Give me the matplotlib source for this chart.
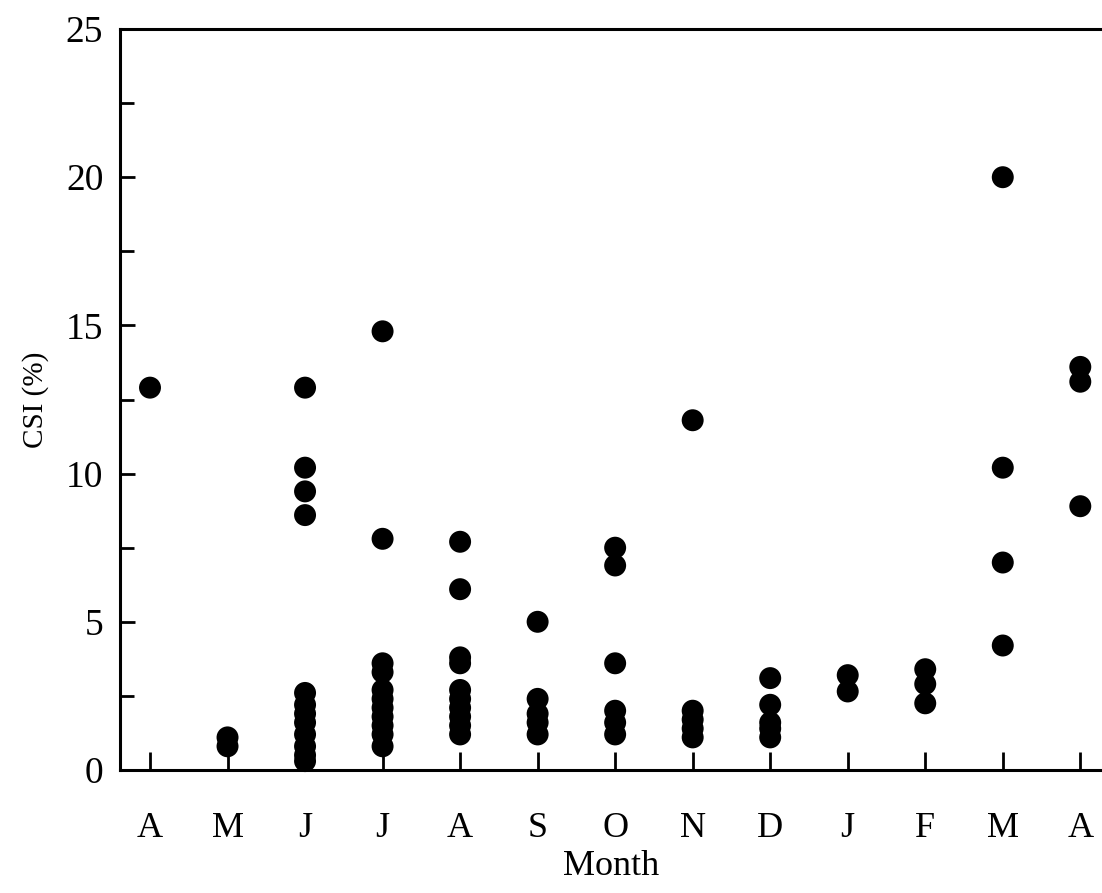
import numpy as np
import matplotlib
matplotlib.use("Agg")
import matplotlib.pyplot as plt

# month labels, April to April
months = ["A", "M", "J", "J", "A", "S", "O", "N", "D", "J", "F", "M", "A"]

# CSI (%) values per month
csi_apr1 = [12.9]
csi_may = [0.8, 1.1]
csi_jun = [12.9, 10.2, 9.4, 8.6, 2.6, 2.2, 1.9, 1.6, 1.2, 0.8, 0.5, 0.3]
csi_jul = [14.8, 7.8, 3.6, 3.3, 2.7, 2.4, 2.1, 1.8, 1.5, 1.2, 0.8]
csi_aug = [7.7, 6.1, 3.8, 3.6, 2.7, 2.4, 2.1, 1.8, 1.5, 1.2]
csi_sep = [5.0, 2.4, 1.9, 1.6, 1.2]
csi_oct = [7.5, 6.9, 3.6, 2.0, 1.6, 1.2]
csi_nov = [11.8, 2.0, 1.7, 1.4, 1.1]
csi_dec = [3.1, 2.2, 1.6, 1.4, 1.1]
csi_jan = [3.2, 2.65]
csi_feb = [3.4, 2.9, 2.25]
csi_mar = [20.0, 10.2, 7.0, 4.2]
csi_apr2 = [13.6, 13.1, 8.9]

groups = [csi_apr1, csi_may, csi_jun, csi_jul, csi_aug, csi_sep, csi_oct,
          csi_nov, csi_dec, csi_jan, csi_feb, csi_mar, csi_apr2]

plt.rcParams['font.family'] = ['Liberation Serif', 'DejaVu Serif']

fig = plt.figure(figsize=(11.02, 8.93), dpi=100)
ax = fig.add_axes([120 / 1102, 1 - 770 / 893, 1 - 120 / 1102, (770 - 29) / 893])

for i, g in enumerate(groups):
    ax.scatter(np.full(len(g), i), g, s=250, color="black", edgecolors="none",
               clip_on=False, zorder=3)

ax.set_xlim(-0.387, 12.28)
ax.set_ylim(0, 25)
ax.set_xticks(range(len(months)))
ax.set_xticklabels(months)
ax.set_yticks([0, 5, 10, 15, 20, 25])
ax.set_yticks(np.arange(2.5, 25, 5), minor=True)

for s in ["left", "bottom", "top"]:
    ax.spines[s].set_linewidth(2.2)
ax.spines["right"].set_visible(False)

ax.tick_params(axis="x", direction="in", length=13, width=2, pad=30,
               labelsize=26, top=False)
ax.tick_params(axis="y", which="major", direction="in", length=11, width=2,
               pad=12, labelsize=27)
ax.tick_params(axis="y", which="minor", direction="in", length=10, width=2)

ax.set_xlabel("Month", fontsize=26, labelpad=4)
ax.set_ylabel("CSI (%)", fontsize=21, labelpad=12)

fig.savefig("out.png", dpi=100)
